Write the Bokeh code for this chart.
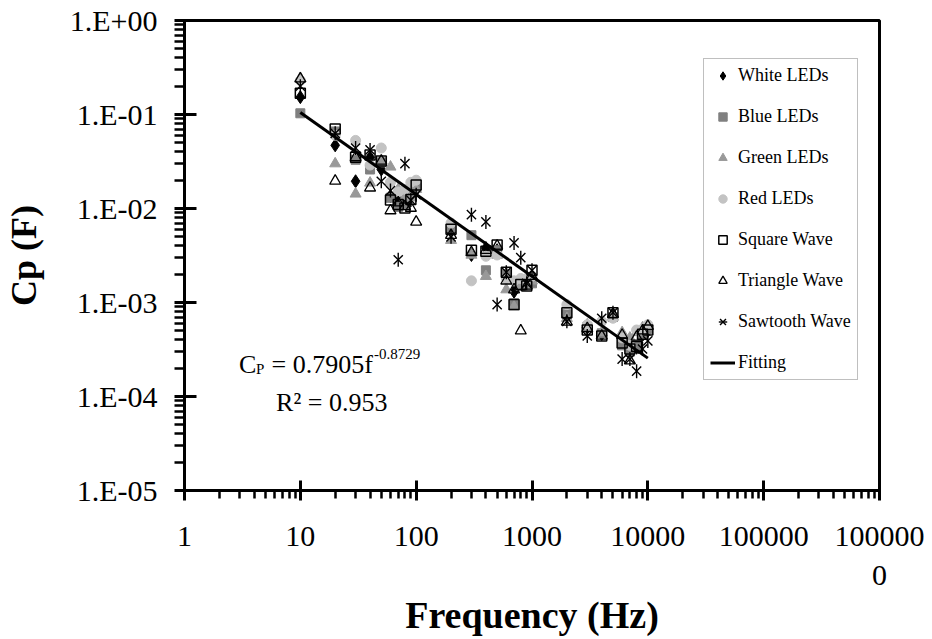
import math
from bokeh.plotting import figure
from bokeh.models import FixedTicker, Legend, LegendItem, Label, ColumnDataSource
from bokeh.embed import file_html
from bokeh.resources import INLINE

# ---------------- data ----------------
freq = [10, 20, 30, 40, 50, 60, 70, 80, 90, 100,
        200, 300, 400, 500, 600, 700, 800, 900, 1000,
        2000, 3000, 4000, 5000, 6000, 7000, 8000, 9000, 10000]

white_leds = [0.153, 0.047, 0.0195, 0.035, 0.026, 0.0135, 0.0127, 0.0125, 0.0135, 0.0157,
              0.0057, 0.0032, 0.0038, 0.0036, 0.0020, 0.0013, 0.0016, 0.0017, 0.0019,
              0.0007, 0.00054, 0.00046, 0.00075, 0.00040, 0.00031, 0.00033, 0.00045, 0.0005]
blue_leds = [0.103, 0.066, 0.033, 0.026, 0.031, 0.013, 0.0104, 0.011, 0.014, 0.017,
             0.0062, 0.0052, 0.0022, 0.0036, 0.0020, 0.00098, 0.0015, 0.0016, 0.0016,
             0.00075, 0.00055, 0.00047, 0.00070, 0.00035, 0.00030, 0.00035, 0.00045, 0.00052]
green_leds = [0.243, 0.030, 0.0143, 0.0187, 0.032, 0.0277, 0.016, 0.0133, 0.013, 0.016,
              0.0046, 0.0032, 0.0019, 0.0032, 0.00137, 0.0009, 0.0015, 0.0015, 0.0017,
              0.00068, 0.00058, 0.00048, 0.00070, 0.00048, 0.00042, 0.00048, 0.00054, 0.00056]
red_leds = [0.23, 0.060, 0.053, 0.029, 0.044, 0.019, 0.015, 0.016, 0.019, 0.020,
            0.0070, 0.0017, 0.0031, 0.0032, 0.0018, 0.0017, 0.0018, 0.0018, 0.0019,
            0.00095, 0.00058, 0.00063, 0.00068, 0.00042, 0.00035, 0.00051, 0.00052, 0.00058]
square_wave = [0.168, 0.070, 0.035, 0.037, 0.032, 0.0123, 0.0110, 0.0101, 0.0125, 0.0178,
               0.0060, 0.0036, 0.0035, 0.0041, 0.0021, 0.00095, 0.00155, 0.0015, 0.0022,
               0.00078, 0.00051, 0.00044, 0.00078, 0.00037, 0.00032, 0.00034, 0.00046, 0.00051]
triangle_wave = [0.24, 0.0196, 0.035, 0.0166, 0.032, 0.0095, 0.0115, 0.0105, 0.0101, 0.0072,
                 0.0052, 0.0034, 0.0036, 0.0040, 0.0017, 0.00137, 0.00050, 0.0015, 0.0019,
                 0.00062, 0.00053, 0.00044, 0.00075, 0.00045, 0.00024, 0.00043, 0.0005, 0.00056]
sawtooth_wave = [0.20, 0.063, 0.044, 0.042, 0.0195, 0.0155, 0.00285, 0.030, 0.0123, 0.014,
                 0.0050, 0.0086, 0.0072, 0.00095, 0.0021, 0.0043, 0.0030, 0.0016, 0.0022,
                 0.00063, 0.00044, 0.00068, 0.00078, 0.00025, 0.00025, 0.000186, 0.00032, 0.00039]

fit_f = [10, 10000]
fit_c = [0.105, 0.000256]

x_ticks = [1, 10, 100, 1000, 10000, 100000, 1000000]
x_tick_labels = ["1", "10", "100", "1000", "10000", "100000", "100000\n0"]
y_ticks = [1e-5, 1e-4, 1e-3, 1e-2, 1e-1, 1.0]
y_tick_labels = ["1.E-05", "1.E-04", "1.E-03", "1.E-02", "1.E-01", "1.E+00"]

series_names = ["White LEDs", "Blue LEDs", "Green LEDs", "Red LEDs",
                "Square Wave", "Triangle Wave", "Sawtooth Wave", "Fitting"]

FONT = "Liberation Serif"
NBSP = "\u00a0"

# ---------------- figure ----------------
p = figure(width=932, height=639, x_axis_type="log", y_axis_type="log",
           x_range=(1, 1e6), y_range=(1e-5, 1),
           output_backend="svg", toolbar_location=None,
           min_border_left=183, min_border_right=53,
           min_border_top=20, min_border_bottom=147)
p.background_fill_color = "white"
p.border_fill_color = "white"
p.outline_line_color = "black"
p.outline_line_width = 3
p.xgrid.visible = False
p.ygrid.visible = False

def minor_list(lo_exp, hi_exp):
    out = []
    for k in range(lo_exp, hi_exp):
        for m in range(2, 10):
            out.append(m * 10.0 ** k)
    return out

p.xaxis.ticker = FixedTicker(ticks=x_ticks, minor_ticks=minor_list(0, 6))
p.yaxis.ticker = FixedTicker(ticks=y_ticks, minor_ticks=minor_list(-5, 0))
p.xaxis.major_label_overrides = {t: l for t, l in zip(x_ticks, x_tick_labels)}
p.yaxis.major_label_overrides = {t: l for t, l in zip(y_ticks, y_tick_labels)}

for ax in (p.xaxis, p.yaxis):
    ax.axis_line_width = 3
    ax.axis_line_color = "black"
    ax.major_tick_line_width = 3
    ax.minor_tick_line_width = 2.5
    ax.major_tick_line_color = "black"
    ax.minor_tick_line_color = "black"
    ax.major_label_text_font = FONT
    ax.major_label_text_font_size = "30px"
    ax.major_label_text_color = "black"
    ax.axis_label_text_font = FONT
    ax.axis_label_text_font_style = "bold"
    ax.axis_label_text_color = "black"

p.xaxis.major_tick_in = 10
p.xaxis.major_tick_out = 10
p.xaxis.minor_tick_in = 0
p.xaxis.minor_tick_out = 8
p.xaxis.major_label_standoff = 18
p.xaxis.axis_label = "Frequency (Hz)"
p.xaxis.axis_label_text_font_size = "38px"
p.xaxis.axis_label_standoff = 0

p.yaxis.major_tick_in = 12
p.yaxis.major_tick_out = 10
p.yaxis.minor_tick_in = 0
p.yaxis.minor_tick_out = 10
p.yaxis.major_label_standoff = 17
p.yaxis.axis_label = "Cp (F)"
p.yaxis.axis_label_text_font_size = "36px"
p.yaxis.axis_label_standoff = 23

# ---------------- glyphs ----------------
src = ColumnDataSource(dict(f=freq, white=white_leds, blue=blue_leds, green=green_leds,
                            red=red_leds, sq=square_wave, tri=triangle_wave, saw=sawtooth_wave))

r_white = p.scatter("f", "white", source=src, marker="diamond", size=13,
                    fill_color="black", line_color="black")
r_blue = p.scatter("f", "blue", source=src, marker="square", size=9,
                   fill_color="#808080", line_color="#808080")
r_green = p.scatter("f", "green", source=src, marker="triangle", size=11,
                    fill_color="#999999", line_color="#999999")
r_red = p.scatter("f", "red", source=src, marker="circle", size=10,
                  fill_color="#c3c3c3", line_color="#c3c3c3")
r_sq = p.scatter("f", "sq", source=src, marker="square", size=10,
                 fill_alpha=0, line_color="black", line_width=1.5)
r_tri = p.scatter("f", "tri", source=src, marker="triangle", size=11,
                  fill_alpha=0, line_color="black", line_width=1.3)
r_saw_x = p.scatter("f", "saw", source=src, marker="x", size=13,
                    line_color="black", line_width=1.4)
r_saw_v = p.scatter("f", "saw", source=src, marker="dash", size=14, angle=math.pi / 2,
                    line_color="black", line_width=1.4)
r_fit = p.line(fit_f, fit_c, line_width=3, line_color="black")

legend = Legend(items=[
    LegendItem(label=series_names[0], renderers=[r_white]),
    LegendItem(label=series_names[1], renderers=[r_blue]),
    LegendItem(label=series_names[2], renderers=[r_green]),
    LegendItem(label=series_names[3], renderers=[r_red]),
    LegendItem(label=series_names[4], renderers=[r_sq]),
    LegendItem(label=series_names[5], renderers=[r_tri]),
    LegendItem(label=series_names[6], renderers=[r_saw_x, r_saw_v]),
    LegendItem(label=series_names[7], renderers=[r_fit]),
], location=(519, 110))
legend.label_text_font = FONT
legend.label_text_font_size = "18px"
legend.label_text_color = "black"
legend.padding = 6
legend.spacing = 20
legend.glyph_height = 21
legend.glyph_width = 25
legend.label_height = 21
legend.label_standoff = 3
legend.margin = 0
legend.border_line_color = "#7f7f7f"
legend.border_line_width = 1
legend.background_fill_color = "white"
legend.background_fill_alpha = 1
p.add_layout(legend, "center")

# ---------------- equation annotation ----------------
eq_x, eq_y = 2.96, 2.2e-4
r2_x, r2_y = 6.18, 8.7e-5
common = dict(text_font=FONT, text_color="black", text_baseline="alphabetic", text_align="left")
p.add_layout(Label(x=eq_x, y=eq_y, text="C", text_font_size="26px", **common))
p.add_layout(Label(x=eq_x, y=eq_y, x_offset=17, y_offset=-5, text="P", text_font_size="15px", **common))
p.add_layout(Label(x=eq_x, y=eq_y, x_offset=26, text=NBSP + "=" + NBSP + "0.7905f",
                   text_font_size="26px", **common))
p.add_layout(Label(x=eq_x, y=eq_y, x_offset=135, y_offset=10, text="-0.8729",
                   text_font_size="15px", **common))
p.add_layout(Label(x=r2_x, y=r2_y, text="R\u00b2" + NBSP + "=" + NBSP + "0.953",
                   text_font_size="26px", **common))

open("out.html", "w").write(file_html(p, INLINE))
